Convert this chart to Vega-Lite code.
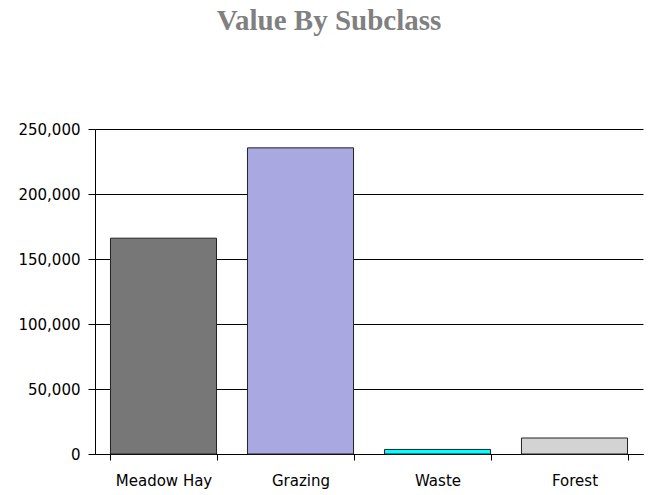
{
  "$schema": "https://vega.github.io/schema/vega-lite/v6.json",
  "width": 548,
  "height": 325,
  "autosize": "none",
  "padding": {"left": 95, "top": 129, "right": 6, "bottom": 41},
  "background": "white",
  "title": {
    "text": "Value By Subclass",
    "font": "Liberation Serif",
    "fontSize": 29,
    "fontWeight": "bold",
    "color": "#808080",
    "anchor": "middle",
    "dx": -40,
    "offset": 86
  },
  "data": {
    "values": [
      {"subclass": "Meadow Hay", "value": 166000},
      {"subclass": "Grazing", "value": 235500},
      {"subclass": "Waste", "value": 3500},
      {"subclass": "Forest", "value": 12300}
    ]
  },
  "mark": {"type": "bar", "stroke": "#222222", "strokeWidth": 1},
  "encoding": {
    "x": {
      "field": "subclass",
      "type": "nominal",
      "sort": null,
      "scale": {"paddingInner": 0.226, "paddingOuter": 0.113},
      "axis": {
        "title": null,
        "labelAngle": 0,
        "labelFont": "DejaVu Sans",
        "labelFontSize": 15,
        "labelColor": "#000000",
        "labelPadding": 13,
        "tickBand": "extent",
        "tickColor": "#000000",
        "tickSize": 6,
        "domainColor": "#000000",
        "grid": false
      }
    },
    "y": {
      "field": "value",
      "type": "quantitative",
      "scale": {"domain": [0, 250000], "nice": false},
      "axis": {
        "title": null,
        "values": [0, 50000, 100000, 150000, 200000, 250000],
        "format": ",d",
        "labelFont": "DejaVu Sans",
        "labelFontSize": 15,
        "labelColor": "#000000",
        "labelPadding": 8,
        "tickColor": "#000000",
        "tickSize": 7,
        "domainColor": "#000000",
        "grid": true,
        "gridColor": "#000000",
        "gridOpacity": 1
      }
    },
    "fill": {
      "field": "subclass",
      "type": "nominal",
      "scale": {
        "domain": ["Meadow Hay", "Grazing", "Waste", "Forest"],
        "range": ["#777777", "#a9a8e0", "#00ffff", "#d3d3d3"]
      },
      "legend": null
    }
  },
  "config": {"view": {"stroke": null}}
}
